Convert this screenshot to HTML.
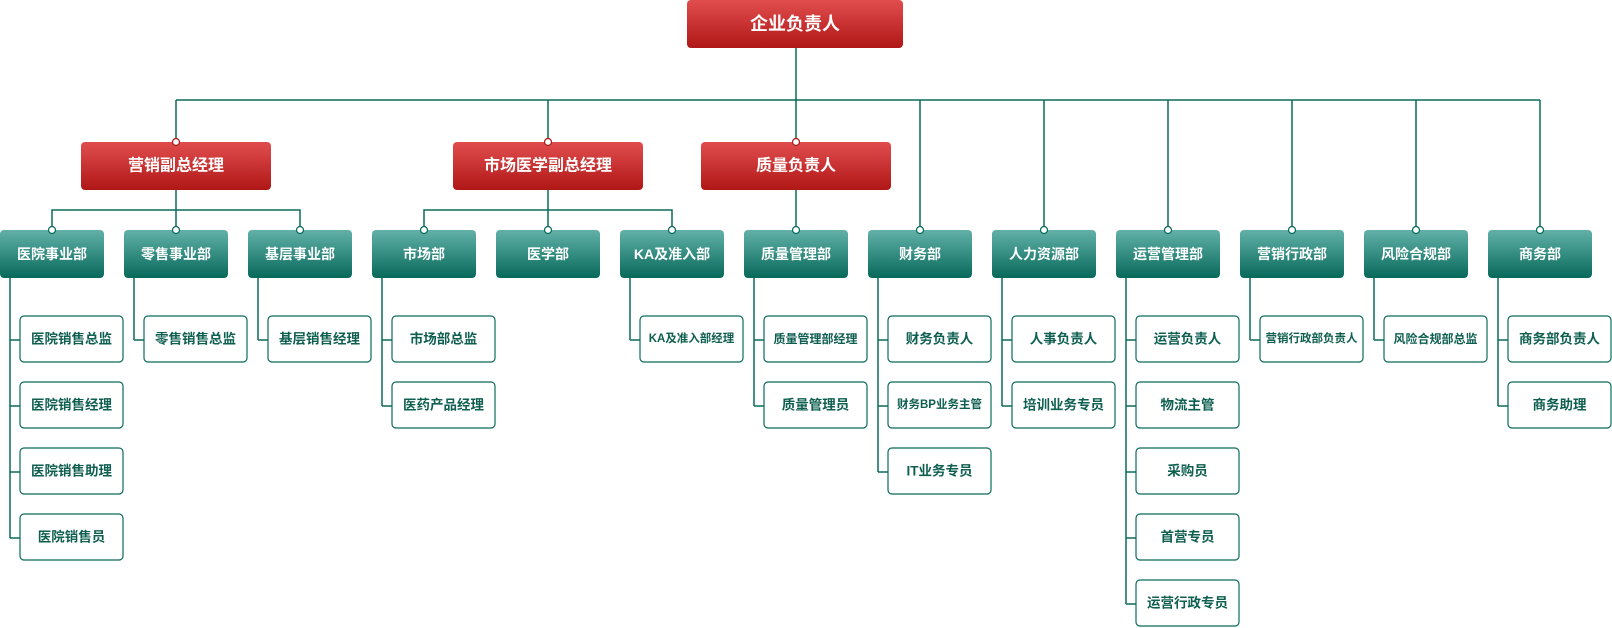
<!DOCTYPE html>
<html><head><meta charset="utf-8"><style>
html,body{margin:0;padding:0;background:#fff;width:1612px;height:628px;overflow:hidden}
text{font-family:"Liberation Sans","Noto Sans CJK SC",sans-serif;font-weight:bold;text-anchor:middle;dominant-baseline:central}
</style></head><body>
<svg width="1612" height="628" viewBox="0 0 1612 628" xmlns="http://www.w3.org/2000/svg">
<defs>
<linearGradient id="r" x1="0" y1="0" x2="0" y2="1"><stop offset="0" stop-color="#e14d4d"/><stop offset="1" stop-color="#b01717"/></linearGradient>
<linearGradient id="g" x1="0" y1="0" x2="0" y2="1"><stop offset="0" stop-color="#62b1a8"/><stop offset="1" stop-color="#07695a"/></linearGradient>
</defs>
<g stroke="#0b6b5a" stroke-width="1.5" fill="none">
<path d="M796 48V142M176 100H1540M176 100V142M548 100V142M920 100V230M1044 100V230M1168 100V230M1292 100V230M1416 100V230M1540 100V230"/>
<path d="M176 190V230M52 230V210H300V230"/>
<path d="M548 190V230M424 230V210H672V230"/>
<path d="M796 190V230"/>
</g>
<g id="lines" stroke="#0b6b5a" stroke-width="1.5" fill="none"></g>
<rect x="687" y="0" width="216" height="48" rx="4" fill="url(#r)"/>
<text x="795" y="24" fill="#fff" font-size="18">企业负责人</text>
<rect x="81" y="142" width="190" height="48" rx="4" fill="url(#r)"/>
<text x="176" y="166" fill="#fff" font-size="16">营销副总经理</text>
<rect x="453" y="142" width="190" height="48" rx="4" fill="url(#r)"/>
<text x="548" y="166" fill="#fff" font-size="16">市场医学副总经理</text>
<rect x="701" y="142" width="190" height="48" rx="4" fill="url(#r)"/>
<text x="796" y="166" fill="#fff" font-size="16">质量负责人</text>
<g fill="#fff" stroke="#b01717" stroke-width="1.2">
<circle cx="176" cy="142" r="3.5"/><circle cx="548" cy="142" r="3.5"/><circle cx="796" cy="142" r="3.5"/>
</g>
<g id="depts"></g>
</svg>
<script>
var D=[["医院事业部",["医院销售总监","医院销售经理","医院销售助理","医院销售员"]],
["零售事业部",["零售销售总监"]],["基层事业部",["基层销售经理"]],
["市场部",["市场部总监","医药产品经理"]],["医学部",[]],["KA及准入部",["KA及准入部经理"]],
["质量管理部",["质量管理部经理","质量管理员"]],["财务部",["财务负责人","财务BP业务主管","IT业务专员"]],
["人力资源部",["人事负责人","培训业务专员"]],["运营管理部",["运营负责人","物流主管","采购员","首营专员","运营行政专员"]],
["营销行政部",["营销行政部负责人"]],["风险合规部",["风险合规部总监"]],["商务部",["商务部负责人","商务助理"]]];
var ns="http://www.w3.org/2000/svg",g=document.getElementById("depts"),L=document.getElementById("lines");
function el(t,a,p,tx){var e=document.createElementNS(ns,t);for(var k in a)e.setAttribute(k,a[k]);if(tx)e.textContent=tx;p.appendChild(e);return e;}
D.forEach(function(d,i){var x=124*i;
el("rect",{x:x,y:230,width:104,height:48,rx:4,fill:"url(#g)"},g);
el("text",{x:x+52,y:254,fill:"#fff","font-size":14},g,d[0]);
el("circle",{cx:x+52,cy:230,r:3.5,fill:"#fff",stroke:"#07695a","stroke-width":1.2},g);
var n=d[1].length;if(n){var last=316+66*(n-1)+24;
el("path",{d:"M"+(x+10)+" 278V"+last},L);
d[1].forEach(function(c,j){var y=316+66*j;
el("path",{d:"M"+(x+10)+" "+(y+24)+"H"+(x+20)},L);
el("rect",{x:x+20,y:y,width:103,height:46,rx:4,fill:"#fff",stroke:"#0b6b5a","stroke-width":1.2},g);
var fs=c.length>=8?11.5:(c.length>=7?12:13.5);
el("text",{x:x+71.5,y:y+23,fill:"#0e5f50","font-size":fs},g,c);});}
});
</script>
</body></html>
